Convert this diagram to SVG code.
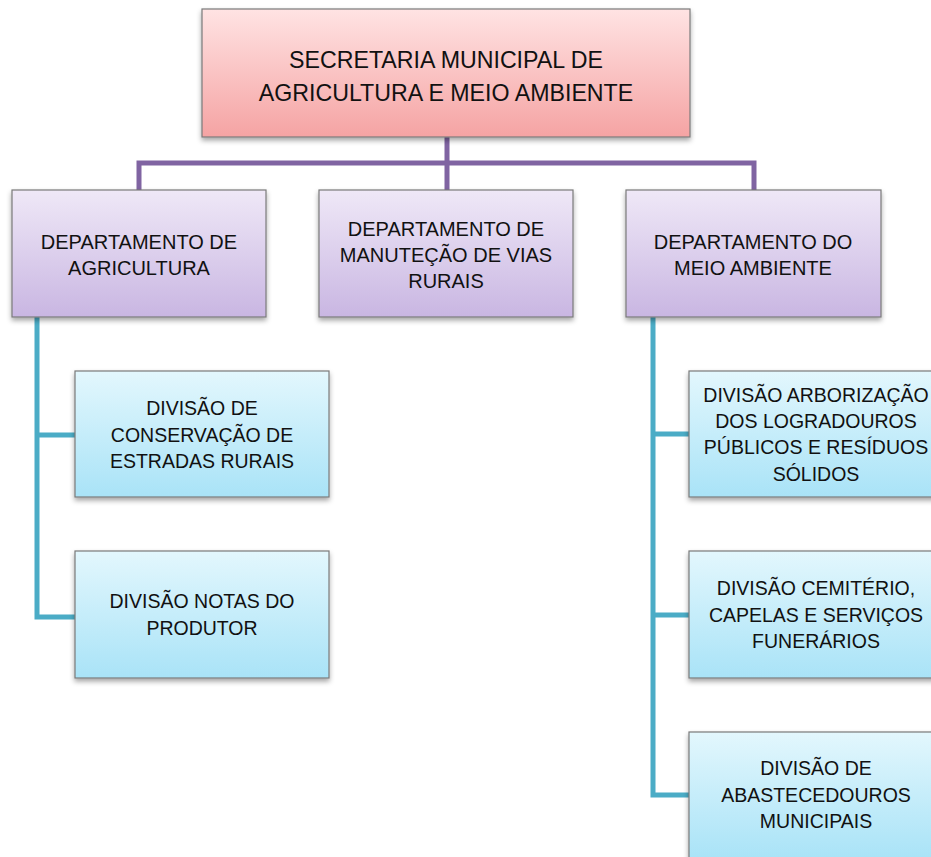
<svg xmlns="http://www.w3.org/2000/svg" width="931" height="857" viewBox="0 0 931 857">
<defs>
<linearGradient id="gTop" x1="0" y1="0" x2="0" y2="1"><stop offset="0" stop-color="#ffe3e3"/><stop offset="1" stop-color="#f5a3a3"/></linearGradient>
<linearGradient id="gDep" x1="0" y1="0" x2="0" y2="1"><stop offset="0" stop-color="#efe8f7"/><stop offset="1" stop-color="#c9b6e2"/></linearGradient>
<linearGradient id="gDiv" x1="0" y1="0" x2="0" y2="1"><stop offset="0" stop-color="#e3f7fd"/><stop offset="1" stop-color="#a9e3f7"/></linearGradient>
<filter id="sh" x="-10%" y="-10%" width="120%" height="130%"><feDropShadow dx="0" dy="3" stdDeviation="2.5" flood-color="#000" flood-opacity="0.35"/></filter>
<style>
.box{stroke:#7a7a7a;stroke-width:1.2;filter:url(#sh)}
.t{font-family:"Liberation Sans",Arial,sans-serif;fill:#111;text-anchor:middle}
.tt{font-size:23.2px}
.td{font-size:20px}
.tv{font-size:19.5px}
.p{stroke:#8064a2;stroke-width:5;fill:none}
.c{stroke:#4bacc6;stroke-width:5;fill:none}
</style>
</defs>
<g id="connectors">
<path class="p" d="M447 137V163M139 190V163H754V190M447 163V190"/>
<path class="c" d="M37 317V617H75M37 435H75"/>
<path class="c" d="M653 317V795H689M653 434H689M653 615H689"/>
</g>
<g id="secretaria">
<rect class="box" x="202" y="9" width="488" height="128" fill="url(#gTop)"/>
<text class="t tt" x="446" y="68">SECRETARIA MUNICIPAL DE</text>
<text class="t tt" x="446" y="101">AGRICULTURA E MEIO AMBIENTE</text>
</g>
<g id="dep-agricultura">
<rect class="box" x="12" y="190" width="254" height="127" fill="url(#gDep)"/>
<text class="t td" x="139" y="249">DEPARTAMENTO DE</text>
<text class="t td" x="139" y="275">AGRICULTURA</text>
</g>
<g id="dep-vias">
<rect class="box" x="319" y="190" width="254" height="127" fill="url(#gDep)"/>
<text class="t td" x="446" y="236">DEPARTAMENTO DE</text>
<text class="t td" x="446" y="262">MANUTEÇÃO DE VIAS</text>
<text class="t td" x="446" y="288">RURAIS</text>
</g>
<g id="dep-meio-ambiente">
<rect class="box" x="626" y="190" width="255" height="127" fill="url(#gDep)"/>
<text class="t td" x="753" y="249">DEPARTAMENTO DO</text>
<text class="t td" x="753" y="275">MEIO AMBIENTE</text>
</g>
<g id="div-estradas">
<rect class="box" x="75" y="371" width="254" height="126" fill="url(#gDiv)"/>
<text class="t tv" x="202" y="415">DIVISÃO DE</text>
<text class="t tv" x="202" y="442">CONSERVAÇÃO DE</text>
<text class="t tv" x="202" y="468">ESTRADAS RURAIS</text>
</g>
<g id="div-notas">
<rect class="box" x="75" y="551" width="254" height="127" fill="url(#gDiv)"/>
<text class="t tv" x="202" y="608">DIVISÃO NOTAS DO</text>
<text class="t tv" x="202" y="635">PRODUTOR</text>
</g>
<g id="div-arborizacao">
<rect class="box" x="689" y="371" width="254" height="126" fill="url(#gDiv)"/>
<text class="t tv" x="816" y="402">DIVISÃO ARBORIZAÇÃO</text>
<text class="t tv" x="816" y="428">DOS LOGRADOUROS</text>
<text class="t tv" x="816" y="454">PÚBLICOS E RESÍDUOS</text>
<text class="t tv" x="816" y="481">SÓLIDOS</text>
</g>
<g id="div-cemiterio">
<rect class="box" x="689" y="551" width="254" height="127" fill="url(#gDiv)"/>
<text class="t tv" x="816" y="595">DIVISÃO CEMITÉRIO,</text>
<text class="t tv" x="816" y="622">CAPELAS E SERVIÇOS</text>
<text class="t tv" x="816" y="648">FUNERÁRIOS</text>
</g>
<g id="div-abastecedouros">
<rect class="box" x="689" y="732" width="254" height="127" fill="url(#gDiv)"/>
<text class="t tv" x="816" y="775">DIVISÃO DE</text>
<text class="t tv" x="816" y="802">ABASTECEDOUROS</text>
<text class="t tv" x="816" y="828">MUNICIPAIS</text>
</g>
</svg>
